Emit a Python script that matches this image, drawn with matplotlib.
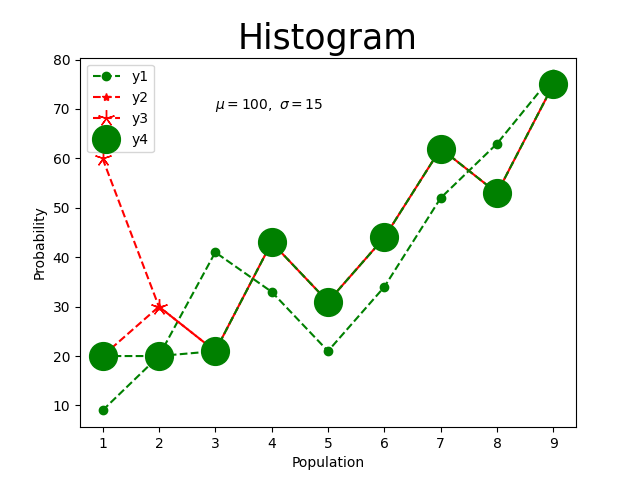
import matplotlib
matplotlib.use("Agg")
import matplotlib.pyplot as plt

x = [1, 2, 3, 4, 5, 6, 7, 8, 9]
y1 = [9, 20, 41, 33, 21, 34, 52, 63, 77]
y2 = [20, 30, 21, 43, 31, 44, 62, 53, 75]
y3 = [60, 30, 21, 43, 31, 44, 62, 53, 75]
y4 = [20, 20, 21, 43, 31, 44, 62, 53, 75]

fig, ax = plt.subplots(figsize=(6.4, 4.8), dpi=100)
ax.plot(x, y1, "go--", label="y1")
ax.plot(x, y2, "r*--", label="y2")
ax.plot(x, y3, "r--", marker=(5, 2, 0), markersize=12, label="y3")
ax.plot(x, y4, "go--", markersize=20, label="y4")
ax.text(3, 70, r"$\mu=100,\ \sigma=15$")
ax.set_title("Histogram", fontsize=25)
ax.set_xlabel("Population")
ax.set_ylabel("Probability")
ax.legend()
fig.savefig("out.png")
